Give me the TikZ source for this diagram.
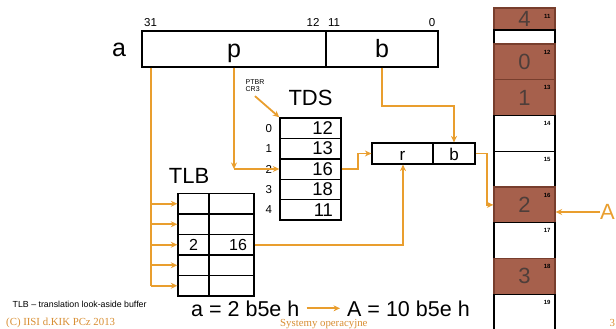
\documentclass[tikz,border=0pt]{standalone}
\usepackage{fontspec}
\setmainfont{Liberation Sans}
\newfontfamily\footserif{Liberation Serif}
\usetikzlibrary{arrows.meta}
\usetikzlibrary{positioning}

\definecolor{linkorange}{RGB}{233,158,46}
\definecolor{footorange}{RGB}{216,142,50}
\definecolor{framebrown}{RGB}{166,96,76}
\definecolor{edgebrown}{RGB}{120,62,45}
\definecolor{digitgray}{RGB}{78,62,58}

\newcommand{\fsz}[1]{\fontsize{#1}{#1}\selectfont}

\begin{document}
\begin{tikzpicture}[x=1pt,y=-1pt,
        link/.style={linkorange,line width=1.8pt,-{Stealth[length=6.5pt,width=6pt]}},
        wire/.style={linkorange,line width=1.8pt},
        field/.style={draw,line width=1.4pt,minimum height=36pt,inner sep=0pt,
            text height=19pt,text depth=2pt,font=\fsz{25}},
        bitnum/.style={inner sep=0pt,font=\fsz{11.5}},
        tdscell/.style={draw,line width=1.4pt,minimum height=20.4pt,inner xsep=8pt,
            inner ysep=0pt,text width=45pt,align=right,font=\fsz{18.5}},
        idx/.style={inner sep=0pt,font=\fsz{11.5}},
        tlbcell/.style={draw,line width=1.4pt,minimum height=20.5pt,inner xsep=7pt,
            inner ysep=0pt,font=\fsz{16}},
        rbox/.style={draw,line width=1.2pt,minimum height=21pt,inner sep=0pt,
            text height=13pt,text depth=0pt,font=\fsz{17}},
        memcell/.style={line width=1.3pt,minimum width=61pt,minimum height=35.75pt,
            inner sep=0pt,text=digitgray,font=\fsz{22}},
        cellnum/.style={anchor=north east,inner sep=0pt,font=\bfseries\fsz{6}},
        foot/.style={anchor=base west,inner sep=0pt,text=footorange,font=\footserif\fsz{10.8}}
    ]
    \useasboundingbox (0,0) rectangle (616,329);

    \node[font=\fsz{25}] (aname) at (119,50) {a};
    \node[field,minimum width=184pt] (p) at (234,49) {p};
    \node[field,minimum width=112pt] (b) at (382,49) {b};
    \node[bitnum] (bit31) at (150.5,22.5) {31};
    \node[bitnum] (bit12) at (313,22.5) {12};
    \node[bitnum] (bit11) at (334,22.5) {11};
    \node[bitnum] (bit0) at (432,22.5) {0};

    \foreach \i/\v in {0/12,1/13,2/16,3/18,4/11}{
        \node[tdscell] (tds\i) at (310.5,{128.2+20.4*\i}) {\v};
        \node[idx,left=7pt of tds\i] (idx\i) {\i};
    }
    \node[inner sep=0pt,font=\fsz{22},above=11pt of tds0] (tdsname) {TDS};
    \node[inner sep=1pt,align=left,font=\fsz{7}] (ptbr) at (255,86) {PTBR\\CR3};

    \foreach \r/\pg/\fr in {1//,2//,3/2/16,4//,5//}{
        \node[tlbcell,minimum width=31pt] (tlbp\r) at (193.5,{183.25+20.5*\r}) {\pg};
        \node[tlbcell,text width=31pt,align=right] (tlbf\r) at (231.5,{183.25+20.5*\r}) {\fr};
    }
    \node[inner sep=0pt,font=\fsz{22}] (tlbname) at (189,175.5) {TLB};

    \node[rbox,minimum width=61pt] (rfield) at (402.5,153.5) {r};
    \node[rbox,minimum width=42pt] (bfield) at (454,153.5) {b};

    \node[memcell,fill=framebrown,draw=edgebrown,minimum height=22pt] (m11) at (524.5,19) {4};
    \node[memcell,draw=black,minimum height=14pt] (mgap) at (524.5,37) {};
    \node[cellnum] (mn11) at ([xshift=-5pt,yshift=-6.5pt]m11.north east) {11};
    \foreach \n/\tone/\edge/\dig [count=\row from 0] in {12/framebrown/edgebrown/0,
            13/framebrown/edgebrown/1,14/white/black/,15/white/black/,
            16/framebrown/edgebrown/2,17/white/black/,18/framebrown/edgebrown/3,19/white/black/}{
        \node[memcell,fill=\tone,draw=\edge] (m\n) at (524.5,{61.875+35.75*\row}) {\dig};
        \node[cellnum] (mn\n) at ([xshift=-5pt,yshift=-6.5pt]m\n.north east) {\n};
    }
    \node[anchor=west,inner sep=0pt,font=\fsz{22},text=linkorange] (physA) at (600,212) {A};

    \coordinate (tlbtap) at ([xshift=10pt]p.south west);
    \draw[wire] (tlbtap) -- (tlbtap |- tlbp5.west);
    \foreach \r in {1,...,5}
        \draw[link] (tlbtap |- tlbp\r.west) -- (tlbp\r.west);

    \coordinate (pturn) at (p.south |- tds2.west);
    \draw[link] (p.south) -- (pturn);
    \draw[link] (pturn) -- (tds2.west);
    \draw[link] ([yshift=-3pt]ptbr.south) -- (tds0.north west);

    \draw[link] (b.south) -- ++(0,38) -| (bfield.north);
    \draw[link] (tds2.east) -- ++(16,0) |- (rfield.west);
    \draw[link] (tlbf3.east) -| ([xshift=0.5pt]rfield.south);
    \draw[link] (bfield.east) -- ++(11,0) |- (m16.west);
    \draw[link] (physA.west) -- (physA.west -| m16.east);

    \node[anchor=base west,inner sep=0pt,font=\fsz{8.8}] (tlbnote) at (12.5,307.5)
        {TLB – translation look-aside buffer};
    \node[anchor=base west,inner sep=0pt,font=\fsz{21.5}] (eqlogic) at (191,316) {a = 2 b5e h};
    \node[anchor=base west,inner sep=0pt,font=\fsz{21.5}] (eqphys) at (347,316) {A = 10 b5e h};
    \draw[link,shorten <=7pt,shorten >=7pt] (eqlogic.east) -- (eqphys.west);

    \node[foot] (copyr) at (6,325) {(C) IISI d.KIK PCz 2013};
    \node[foot] (course) at (280,326) {Systemy operacyjne};
    \node[foot] (pagenum) at (609.5,326) {3};
\end{tikzpicture}
\end{document}
